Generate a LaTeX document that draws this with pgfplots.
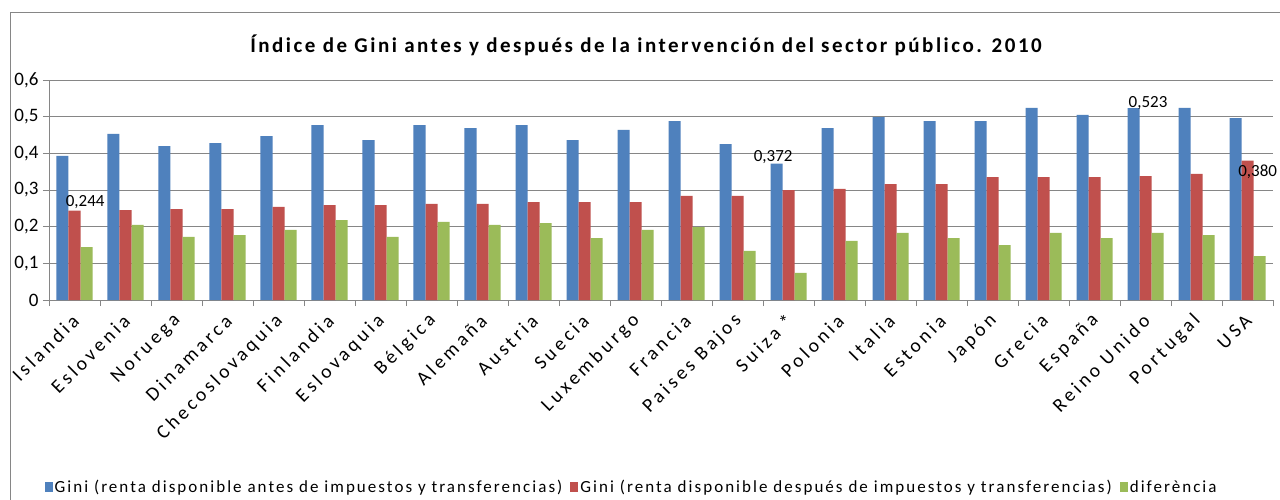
\documentclass[border=0pt]{standalone}
\usepackage{pgfplots}
\pgfplotsset{compat=1.18}
\usepackage{fontspec}
\setmainfont{Carlito}
\newfontfamily\spaced[LetterSpace=12]{Carlito}
\newfontfamily\spacedlab[LetterSpace=18]{Carlito}
\newfontfamily\spacedleg[LetterSpace=12]{Carlito}
\definecolor{cblue}{HTML}{4F81BD}
\definecolor{cred}{HTML}{C0504D}
\definecolor{cgreen}{HTML}{9BBB59}
\definecolor{cgrid}{HTML}{868686}
\begin{document}
\begin{tikzpicture}
\useasboundingbox (0,0) rectangle (1280pt,499pt);
\fill[white] (0,0) rectangle (1280pt,499pt);
\draw[cgrid, line width=1pt] (10pt,-5pt) -- (10pt,486pt) -- (1290pt,486pt);
\node[font=\spaced\bfseries\fontsize{21}{24}\selectfont] at (646pt,454pt) {Índice de Gini antes y después de la intervención del sector público. 2010};
\begin{axis}[
  at={(49pt,199pt)}, anchor=south west, scale only axis,
  width=1224pt, height=220pt,
  ybar=0pt, bar width=12pt,
  xmin=-0.5, xmax=23.5, ymin=0, ymax=0.6,
  xtick={0,...,23},
  xticklabels={Islandia,Eslovenia,Noruega,Dinamarca,Checoslovaquia,Finlandia,Eslovaquia,Bélgica,Alemaña,Austria,Suecia,Luxemburgo,Francia,Paises Bajos,Suiza *,Polonia,Italia,Estonia,Japón,Grecia,España,Reino Unido,Portugal,USA},
  major x tick style={draw=none},
  minor xtick={-0.5,0.5,...,23.5},
  minor tick length=6pt, major tick length=6pt,
  ytick={0,0.1,0.2,0.3,0.4,0.5,0.6},
  yticklabels={0,{0,1},{0,2},{0,3},{0,4},{0,5},{0,6}},
  ymajorgrids, grid style={cgrid, line width=0.9pt},
  axis x line*=bottom, axis y line*=left,
  axis line style={cgrid, line width=0.9pt, -},
  tick align=outside, tick style={cgrid, line width=0.9pt},
  yticklabel style={font=\fontsize{19}{20}\selectfont, black, xshift=-1pt},
  xticklabel style={rotate=45, anchor=east, font=\spacedlab\fontsize{19.5}{20}\selectfont, black, xshift=-4pt, yshift=-9pt},
  legend style={at={(0.476,-0.85)}, anchor=center, draw=none, legend columns=3,
    font=\spacedleg\fontsize{17}{20}\selectfont, /tikz/every even column/.append style={column sep=6pt}},
  legend image code/.code={\fill[#1] (0pt,-5pt) rectangle (8pt,5pt);},
  clip=false,
]
\addplot[fill=cblue, draw=none] coordinates {(0,0.393) (1,0.453) (2,0.420) (3,0.428) (4,0.447) (5,0.477) (6,0.436) (7,0.477) (8,0.469) (9,0.477) (10,0.436) (11,0.464) (12,0.488) (13,0.425) (14,0.372) (15,0.469) (16,0.499) (17,0.488) (18,0.488) (19,0.524) (20,0.505) (21,0.523) (22,0.524) (23,0.496)};
\addplot[fill=cred, draw=none] coordinates {(0,0.244) (1,0.245) (2,0.248) (3,0.248) (4,0.254) (5,0.259) (6,0.259) (7,0.262) (8,0.262) (9,0.267) (10,0.267) (11,0.267) (12,0.284) (13,0.284) (14,0.300) (15,0.303) (16,0.316) (17,0.316) (18,0.335) (19,0.335) (20,0.335) (21,0.338) (22,0.344) (23,0.380)};
\addplot[fill=cgreen, draw=none] coordinates {(0,0.144) (1,0.205) (2,0.172) (3,0.177) (4,0.191) (5,0.218) (6,0.172) (7,0.213) (8,0.205) (9,0.210) (10,0.169) (11,0.191) (12,0.199) (13,0.134) (14,0.074) (15,0.161) (16,0.183) (17,0.169) (18,0.150) (19,0.183) (20,0.169) (21,0.183) (22,0.177) (23,0.120)};
\legend{Gini (renta disponible antes de impuestos y transferencias),Gini (renta disponible después de impuestos y transferencias),diferència}
\node[font=\fontsize{17}{18}\selectfont] at (axis cs:0.21,0.268) {0,244};
\node[font=\fontsize{17}{18}\selectfont] at (axis cs:13.7,0.39) {0,372};
\node[font=\fontsize{17}{18}\selectfont] at (axis cs:21.05,0.537) {0,523};
\node[font=\fontsize{17}{18}\selectfont] at (axis cs:23.2,0.349) {0,380};
\end{axis}
\end{tikzpicture}
\end{document}
